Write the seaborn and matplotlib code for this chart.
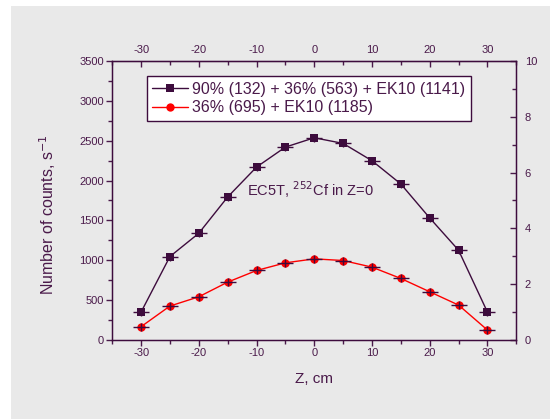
import matplotlib
matplotlib.use("Agg")
import matplotlib.pyplot as plt
import seaborn as sns
import pandas as pd
from matplotlib.patches import Rectangle
from matplotlib.ticker import MultipleLocator

# ---- data ----
z_cm = [-30, -25, -20, -15, -10, -5, 0, 5, 10, 15, 20, 25, 30]
counts_a = [350, 1047, 1339, 1794, 2169, 2420, 2537, 2466, 2249, 1957, 1531, 1126, 350]
counts_b = [167, 426, 542, 726, 872, 968, 1018, 997, 914, 772, 605, 438, 125]
label_a = "90% (132) + 36% (563) + EK10 (1141)"
label_b = "36% (695) + EK10 (1185)"
x_ticks = [-30, -20, -10, 0, 10, 20, 30]
y_ticks = [0, 500, 1000, 1500, 2000, 2500, 3000, 3500]
y2_ticks = [0, 2, 4, 6, 8, 10]

DARK = "#3d0c3d"
TXT = "#4a1a4a"
RED = "#ff0000"
BG = "#e9e9e9"

sns.set_style("ticks")
plt.rcParams['font.family'] = ['Liberation Sans', 'DejaVu Sans']
plt.rcParams['text.color'] = TXT
plt.rcParams['axes.labelcolor'] = TXT
plt.rcParams['xtick.color'] = TXT
plt.rcParams['ytick.color'] = TXT

fig = plt.figure(figsize=(5.5, 4.19), dpi=100)
fig.patch.set_facecolor("white")
fig.patches.append(Rectangle((10.5 / 550, 0), 1, (419 - 6) / 419, transform=fig.transFigure,
                             facecolor=BG, edgecolor="none", zorder=-10))

ax = fig.add_axes([112.2 / 550, (419 - 340) / 419, (516.3 - 112.2) / 550, (340 - 61) / 419])
ax.set_facecolor(BG)

df = pd.DataFrame({"z": z_cm * 2, "counts": counts_a + counts_b,
                   "series": [label_a] * len(z_cm) + [label_b] * len(z_cm)})

sns.lineplot(data=df, x="z", y="counts", hue="series", style="series",
             palette={label_a: DARK, label_b: RED},
             markers={label_a: "s", label_b: "o"}, dashes=False,
             markersize=6, markeredgewidth=0, linewidth=1, ax=ax, zorder=3)
for vals in (counts_a, counts_b):
    sns.scatterplot(x=z_cm, y=vals, marker="_", s=120, color=DARK, linewidth=1, ax=ax, zorder=4, legend=False)
    sns.scatterplot(x=z_cm, y=vals, marker="|", s=40, color=DARK, linewidth=1, ax=ax, zorder=4, legend=False)

ax.set_xlim(-35, 35)
ax.set_ylim(0, 3500)
ax.set_xticks(x_ticks)
ax.set_xticklabels([str(t) for t in x_ticks])
ax.set_yticks(y_ticks)
ax.xaxis.set_minor_locator(MultipleLocator(5))
ax.yaxis.set_minor_locator(MultipleLocator(250))
ax.tick_params(axis="both", which="major", direction="out", length=4, width=1, labelsize=8, pad=2)
ax.tick_params(axis="both", which="minor", direction="out", length=3, width=1)
for s in ax.spines.values():
    s.set_color(DARK)
    s.set_linewidth(1)
    s.set_visible(True)

ax.set_xlabel("Z, cm", fontsize=11, labelpad=10)
ax.set_ylabel("Number of counts, s$^{-1}$", fontsize=11.5)
ax.yaxis.set_label_coords(-0.135, 0.45)

# top axis
axt = ax.secondary_xaxis("top")
axt.set_xticks(x_ticks)
axt.set_xticklabels([str(t) for t in x_ticks])
axt.xaxis.set_minor_locator(MultipleLocator(5))
axt.tick_params(which="major", direction="in", length=4, width=1, labelsize=8, pad=4, colors=TXT)
axt.tick_params(which="minor", direction="in", length=3, width=1, colors=TXT)
axt.spines["top"].set_color(DARK)

# right axis
axr = ax.twinx()
axr.set_ylim(0, 10)
axr.set_yticks(y2_ticks)
axr.yaxis.set_minor_locator(MultipleLocator(1))
axr.tick_params(which="major", direction="in", length=4, width=1, labelsize=8, pad=6, colors=TXT)
axr.tick_params(which="minor", direction="in", length=3, width=1, colors=TXT)
for s in axr.spines.values():
    s.set_color(DARK)

ax.text((310.5 - 112.2) / 404.1, (340 - 190) / 279, "EC5T, $^{252}$Cf in Z=0",
        transform=ax.transAxes, fontsize=10.5, ha="center", va="center")

handles, labels = ax.get_legend_handles_labels()
leg = ax.legend(handles, labels, loc="upper center", bbox_to_anchor=(0.487, 0.945),
                fontsize=11.5, frameon=True, fancybox=False, handlelength=2.2, handletextpad=0.3,
                borderpad=0.35, labelspacing=0.2, borderaxespad=0)
leg.get_frame().set_edgecolor(DARK)
leg.get_frame().set_facecolor("white")
leg.get_frame().set_alpha(1)
leg.get_frame().set_linewidth(1)
for t in leg.get_texts():
    t.set_color(TXT)

fig.savefig("out.png", dpi=100, facecolor=fig.get_facecolor())
